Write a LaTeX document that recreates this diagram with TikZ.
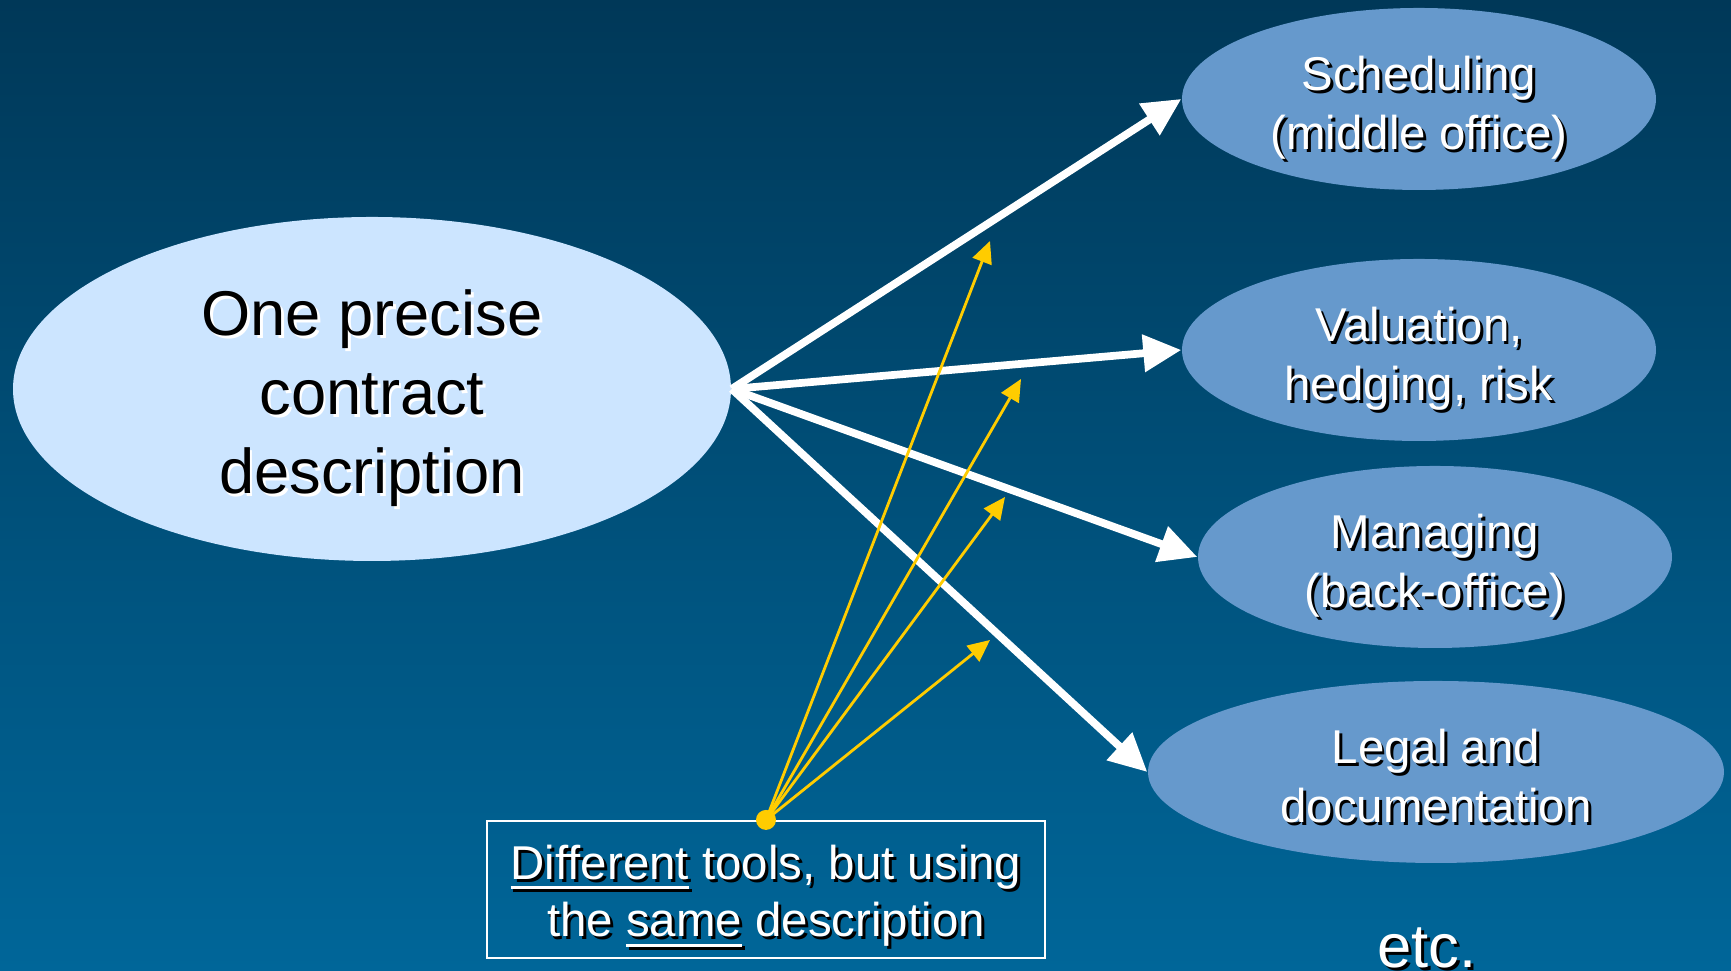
\documentclass[tikz,border=0pt]{standalone}
\usepackage{fontspec}
\setmainfont{Liberation Sans}
\usepackage{tikz}
\usetikzlibrary{shapes.geometric,arrows.meta}

\definecolor{bgtop}{RGB}{0,56,88}
\definecolor{bgbot}{RGB}{0,102,153}
\definecolor{palefill}{RGB}{204,229,255}
\definecolor{taskfill}{RGB}{102,153,204}
\definecolor{tooly}{RGB}{255,204,0}

% text with a small drop shadow
\newcommand\shd[2][black]{\leavevmode\rlap{\kern0.8pt\raisebox{-0.8pt}{\color{#1}#2}}#2}
% thicker underline
\newcommand\undl[1]{{\setbox0\hbox{#1}\rlap{\rule[-2.8pt]{\wd0}{0.9pt}}\box0}}

\begin{document}
\begin{tikzpicture}[
    contract/.style={ellipse, fill=palefill, inner sep=0pt,
      minimum width=7.18cm, minimum height=3.44cm, align=center,
      text height=59.4pt, text depth=0pt,
      font=\fontsize{18}{22.5}\selectfont},
    task/.style={ellipse, fill=taskfill, inner sep=0pt,
      minimum width=4.74cm, minimum height=1.82cm, align=center,
      text=white, text height=28.6pt, text depth=0pt,
      font=\fontsize{13.5}{16.6}\selectfont},
    flow/.style={white, line width=2.2pt, -{Triangle[length=3.8mm,width=3.6mm]}},
    tool/.style={tooly, line width=0.8pt, -{Triangle[length=2.2mm,width=2mm]}}
  ]
  \useasboundingbox (0,0) rectangle (17.31,9.71);
  \shade[top color=bgtop, bottom color=bgbot] (0,0) rectangle (17.31,9.71);

  % the one description
  \node[contract] (desc) at (3.72,5.82)
    {\shd[white]{One precise}\\ \shd[white]{contract}\\ \shd[white]{description}};

  % the tasks
  \node[task] (sched) at (14.19,8.72) {\shd{Scheduling}\\ \shd{(middle office)}};
  \node[task] (valu)  at (14.19,6.21) {\shd{Valuation,}\\ \shd{hedging, risk}};
  \node[task] (manag) at (14.35,4.14) {\shd{Managing}\\ \shd{(back-office)}};
  \node[task, minimum width=5.76cm] (legal) at (14.36,1.99)
    {\shd{Legal and}\\ \shd{documentation}};
  \node[text=white, anchor=base, font=\fontsize{17.5}{21}\selectfont] (etc) at (14.27,0.03) {\shd{etc.}};

  \draw[flow] (desc.east) -- (sched.west);
  \draw[flow] (desc.east) -- (valu.west);
  \draw[flow] (desc.east) -- (manag.west);
  \draw[flow] (desc.east) -- (legal.west);

  % tools box
  \node[draw=white, line width=0.6pt, minimum width=5.58cm, minimum height=1.37cm,
    text=white, align=center, text height=27pt, text depth=0pt,
    font=\fontsize{13.5}{16.3}\selectfont] (note) at (7.66,0.815)
    {\shd{\undl{Different} tools, but using}\\ \shd{the \undl{same} description}};
  \node[circle, fill=tooly, inner sep=0pt, minimum size=0.2cm] (dot) at (note.north) {};

  \coordinate (t1) at (9.90,7.30);
  \coordinate (t2) at (10.21,5.92);
  \coordinate (t3) at (10.05,4.74);
  \coordinate (t4) at (9.90,3.31);
  \foreach \t in {t1,t2,t3,t4}
    \draw[tool] (dot.center) -- (\t);
\end{tikzpicture}
\end{document}
